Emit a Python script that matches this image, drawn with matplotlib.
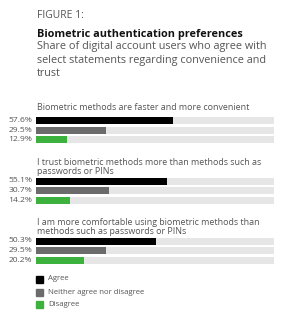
import matplotlib
matplotlib.use("Agg")
import matplotlib.pyplot as plt
from matplotlib.patches import Rectangle

statements = [
    ["Biometric methods are faster and more convenient"],
    ["I trust biometric methods more than methods such as", "passwords or PINs"],
    ["I am more comfortable using biometric methods than", "methods such as passwords or PINs"],
]
series = ["Agree", "Neither agree nor disagree", "Disagree"]
agree = [57.6, 55.1, 50.3]
neither = [29.5, 30.7, 29.5]
disagree = [12.9, 14.2, 20.2]
colors = ["#000000", "#6b6b6b", "#3db13d"]
track = "#e6e6e6"
textc = "#555555"

W, H = 286, 319
fig = plt.figure(figsize=(W / 100, H / 100), dpi=100)
plt.rcParams['font.family'] = ['Open Sans', 'DejaVu Sans']

def ft(x, y, s, **kw):
    fig.text(x / W, 1 - y / H, s, **kw)

ft(37, 17.5, "FIGURE 1:", fontsize=7.5, color=textc, va="baseline")
ft(37, 37.3, "Biometric authentication preferences", fontsize=7.8, fontweight="bold", color="#111111", va="baseline")
for i, line in enumerate(["Share of digital account users who agree with",
                          "select statements regarding convenience and", "trust"]):
    ft(37, 49.3 + i * 13.2, line, fontsize=7.8, color=textc, va="baseline")

x0, x1 = 36, 274
ax = fig.add_axes([x0 / W, 0, (x1 - x0) / W, 1])
ax.set_xlim(0, 100)
ax.set_ylim(H, 0)
ax.axis("off")

label_base = [110, 165, 225]
bar_y = [[120.7, 130, 139.7], [181, 190.5, 200], [241, 250.5, 260]]
bh = 7
for g, lines in enumerate(statements):
    for i, line in enumerate(lines):
        ft(37, label_base[g] + i * 9.3, line, fontsize=6.4, color=textc, va="baseline")
    vals = [agree[g], neither[g], disagree[g]]
    for k, v in enumerate(vals):
        y = bar_y[g][k]
        ax.barh(y, 100, height=bh, color=track, linewidth=0)
        ax.barh(y, v, height=bh, color=colors[k], linewidth=0)
        ft(32, y, f"{v}%", fontsize=6.1, color=textc, ha="right", va="center")

leg_y = [279, 292, 304]
for k, name in enumerate(series):
    fig.patches.append(Rectangle((36 / W, 1 - (leg_y[k] + 3.5) / H), 7 / W, 7 / H,
                                 transform=fig.transFigure, color=colors[k], figure=fig))
    ft(48, leg_y[k], name, fontsize=5.6, color=textc, va="center")

fig.savefig("out.png", dpi=100, facecolor="white")
